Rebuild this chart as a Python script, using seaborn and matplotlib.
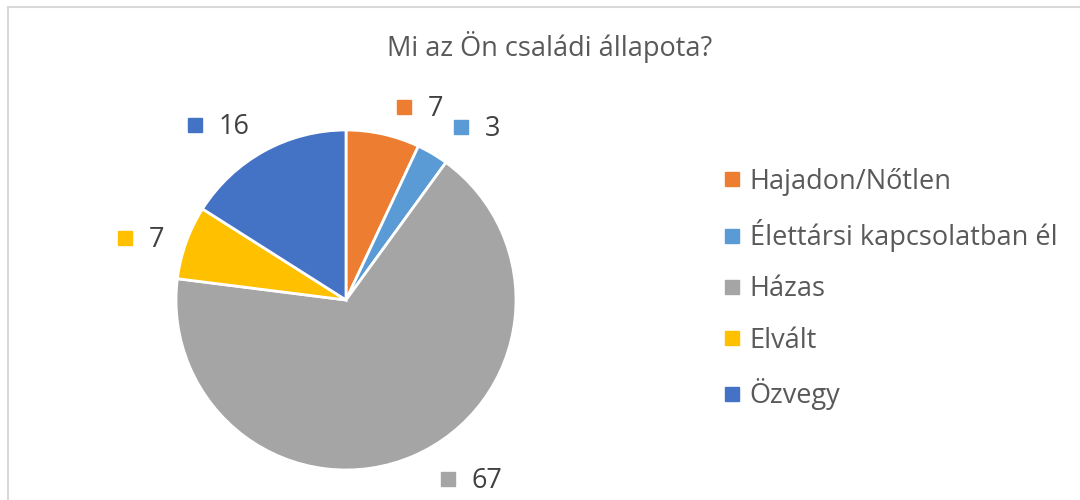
import numpy as np
import matplotlib
matplotlib.use('agg')
import matplotlib.pyplot as plt
from matplotlib.lines import Line2D
from matplotlib.patches import Rectangle
import seaborn as sns

# data
categories = ['Hajadon/Nőtlen', 'Élettársi kapcsolatban él', 'Házas', 'Elvált', 'Özvegy']
values = [7, 3, 67, 7, 16]
colors = ['#ED7D31', '#5B9BD5', '#A5A5A5', '#FFC000', '#4472C4']
title = 'Mi az Ön családi állapota?'

sns.set_theme(style='white')
plt.rcParams['font.family'] = ['Open Sans', 'DejaVu Sans']
text_color = '#404040'
fs = 19.5

fig = plt.figure(figsize=(10.8, 5), dpi=100)
# chart frame (only top/left edges visible in the crop)
fig.patches.append(Rectangle((8 / 1080, -0.1), 1.2, 1.1 - 7 / 500,
                             transform=fig.transFigure, fill=False,
                             edgecolor='#D9D9D9', linewidth=1.5))

ax = fig.add_axes([46 / 1080, 0, 600 / 1080, 400 / 500])
wedges, _ = ax.pie(values, colors=sns.color_palette(colors), startangle=90,
                   counterclock=False, radius=1,
                   wedgeprops=dict(edgecolor='white', linewidth=2))
ax.set_xlim(-300 / 170, 300 / 170)
ax.set_ylim(-200 / 170, 200 / 170)
ax.set_aspect('equal')
ax.axis('off')

# data labels (outside end, Excel style with square key)
nudge = [-10, -8, 11, 3, 8]
dist = [1.22, 1.29, 1.29, 1.22, 1.27]
for w, v, c, dn, r in zip(wedges, values, colors, nudge, dist):
    ang = np.deg2rad((w.theta1 + w.theta2) / 2 + dn)
    x, y = r * np.cos(ang), r * np.sin(ang)
    ax.plot(x - 0.13, y + 0.01, marker='s', ms=9.5, color=c, clip_on=False)
    ax.text(x + 0.01, y, str(v), fontsize=fs, color=text_color,
            ha='left', va='center', clip_on=False)

fig.text(550 / 1080, 1 - 47 / 500, title, fontsize=fs, color='#595959',
         ha='center', va='center')

handles = [Line2D([0], [0], marker='s', linestyle='', markersize=9.5,
                  markerfacecolor=c, markeredgecolor=c) for c in colors]
fig.legend(handles, categories, loc='center left',
           bbox_to_anchor=(694 / 1080, 1 - 289 / 500), frameon=False,
           fontsize=fs, labelcolor='#595959', handletextpad=0.15,
           handlelength=1.0, labelspacing=0.86)

plt.savefig('out.png', dpi=100)
